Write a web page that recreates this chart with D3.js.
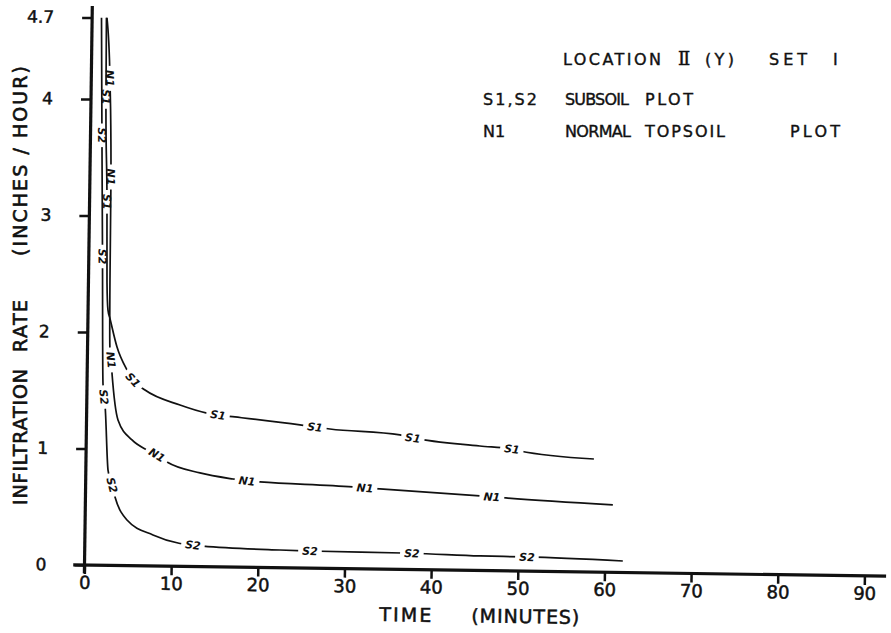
<!DOCTYPE html>
<html>
<head>
<meta charset="UTF-8">
<script src="https://cdn.jsdelivr.net/npm/d3@7"></script>
<style>
    body { margin: 0; background: white; }
    text { font-family: "DejaVu Sans", sans-serif; fill: #111; }
</style>
</head>
<body>
<div id="chart"></div>
<script>
// ---- data ----
const xTicks = [0, 10, 20, 30, 40, 50, 60, 70, 80, 90];
const yTicks = [0, 1, 2, 3, 4, 4.7];

// S1 subsoil plot
const s1Time = [1.65, 1.72, 2.01, 2.14, 2.30, 2.54, 3.40, 4.59, 5.30, 6.70, 10.76, 13.88, 15.16, 17.12, 24.63, 26.36, 28.1, 36.18, 37.68, 45.42, 49.12, 50.05, 58.6];
const s1Rate = [4.70, 4.02, 3.12, 2.43, 2.19, 2.12, 1.875, 1.679, 1.594, 1.509, 1.385, 1.319, 1.304, 1.289, 1.228, 1.212, 1.197, 1.154, 1.130, 1.069, 1.047, 1.031, 0.971];
const s1Labels = [1.72, 2.01, 5.30, 15.16, 26.36, 37.68, 49.12];

// N1 normal topsoil plot
const n1Time = [1.71, 2.15, 2.43, 2.48, 2.59, 2.73, 2.86, 3.63, 5.28, 7.02, 8.18, 9.35, 13.17, 16.99, 18.61, 20.11, 30.84, 32.23, 33.96, 45.5, 46.89, 48.51, 60.86];
const n1Rate = [4.70, 4.18, 3.334, 2.449, 1.849, 1.763, 1.651, 1.249, 1.079, 0.995, 0.953, 0.894, 0.804, 0.756, 0.741, 0.734, 0.702, 0.695, 0.688, 0.640, 0.634, 0.626, 0.579];
const n1Labels = [2.15, 2.43, 2.73, 8.18, 18.61, 32.23, 46.89];

// S2 subsoil plot
const s2Time = [1.08, 1.32, 1.58, 1.84, 1.98, 2.11, 2.56, 3.04, 3.41, 4.83, 7.85, 10.75, 12.48, 13.64, 22.52, 25.99, 36.6, 37.75, 45.6, 51.03, 62.1];
const s2Rate = [4.70, 3.69, 2.65, 1.56, 1.444, 1.376, 0.818, 0.69, 0.587, 0.391, 0.266, 0.200, 0.185, 0.177, 0.152, 0.147, 0.141, 0.140, 0.125, 0.122, 0.099];
const s2Labels = [1.32, 1.58, 1.98, 3.04, 12.48, 25.99, 37.75, 51.03];

const legendRows = [
    ["LOCATION", "II", "(Y)", "SET", "I"],
    ["S1,S2", "SUBSOIL", "PLOT"],
    ["N1", "NORMAL", "TOPSOIL", "PLOT"]
];
const yTitleWords = ["INFILTRATION", "RATE", "(INCHES / HOUR)"];
const xTitleWords = ["TIME", "(MINUTES)"];

// ---- layout ----
const w = 891, h = 633;
const ox = 84.5, oy = 565;   // where the axes cross
const tilt = 0.8;            // the scanned sheet is turned a little

const x = d3.scaleLinear().domain([0, 90]).range([0, 780]);
const y = d3.scaleLinear().domain([0, 4.7]).range([0, -547.5]);

const svg = d3.select('#chart').append('svg')
    .attr('width', w)
    .attr('height', h);
const defs = svg.append('defs');

const g = svg.append('g')
    .attr('transform', `translate(${ox}, ${oy}) rotate(${tilt})`);

// x axis
const gx = g.append('g')
    .call(d3.axisBottom(x).tickValues(xTicks).tickSize(9).tickPadding(2).tickSizeOuter(0));
gx.select('.domain').remove();
gx.selectAll('.tick line').attr('stroke', '#111').attr('stroke-width', 2.5);
gx.selectAll('text').style('font-size', '18px').attr('stroke', '#111').attr('stroke-width', 0.5);

// y axis
const gy = g.append('g')
    .call(d3.axisLeft(y).tickValues(yTicks).tickSize(10).tickPadding(28).tickSizeOuter(0)
        .tickFormat(d => d === 4.7 ? '4.7' : d3.format('d')(d)));
gy.select('.domain').remove();
gy.selectAll('.tick line').attr('stroke', '#111').attr('stroke-width', 2.5);
gy.selectAll('text').style('font-size', '17px').attr('stroke', '#111').attr('stroke-width', 0.5);

g.append('line')
    .attr('x1', x(-1.3)).attr('x2', x(92.5))
    .attr('y1', y(0)).attr('y2', y(0))
    .attr('stroke', '#111').attr('stroke-width', 3.2);
g.append('line')
    .attr('x1', x(0)).attr('x2', x(0))
    .attr('y1', y(-0.07)).attr('y2', y(4.8))
    .attr('stroke', '#111').attr('stroke-width', 3.2);

// curves, with gaps where the labels sit
const series = [
    { id: 's1', name: 'S1', t: s1Time, v: s1Rate, labels: s1Labels },
    { id: 'n1', name: 'N1', t: n1Time, v: n1Rate, labels: n1Labels },
    { id: 's2', name: 'S2', t: s2Time, v: s2Rate, labels: s2Labels }
];

const line = d3.line()
    .x(d => x(d[0]))
    .y(d => y(d[1]))
    .curve(d3.curveMonotoneX);

series.forEach(s => {
    const pts = s.t.map((t, i) => [t, s.v[i]]);

    const mask = defs.append('mask')
        .attr('id', 'gap-' + s.id)
        .attr('maskUnits', 'userSpaceOnUse')
        .attr('x', -200).attr('y', -700).attr('width', 1200).attr('height', 900);
    mask.append('rect')
        .attr('x', -200).attr('y', -700).attr('width', 1200).attr('height', 900)
        .attr('fill', 'white');

    g.append('path')
        .datum(pts)
        .attr('d', line)
        .attr('fill', 'none')
        .attr('stroke', '#111')
        .attr('stroke-width', 1.7)
        .attr('mask', `url(#gap-${s.id})`);

    s.labels.forEach(lt => {
        const i = s.t.indexOf(lt);
        const a = pts[Math.max(i - 1, 0)];
        const b = pts[Math.min(i + 1, pts.length - 1)];
        const ang = Math.atan2(y(b[1]) - y(a[1]), x(b[0]) - x(a[0])) * 180 / Math.PI;
        const tr = `translate(${x(pts[i][0])}, ${y(pts[i][1])}) rotate(${ang})`;

        const txt = g.append('text')
            .attr('transform', tr)
            .attr('text-anchor', 'middle')
            .attr('dy', '0.36em')
            .style('font-size', '11px')
            .style('font-weight', 'bold')
            .style('font-style', 'italic')
            .text(s.name);
        const len = txt.node().getComputedTextLength();

        mask.append('rect')
            .attr('transform', tr)
            .attr('x', -len / 2 - 4).attr('y', -6)
            .attr('width', len + 8).attr('height', 12)
            .attr('fill', 'black');
    });
});

// y axis title, bottom to top
const yTitleStart = [505, 352, 256];
const yTitleLen = [136, 52, 190];
yTitleWords.forEach((word, i) => {
    svg.append('text')
        .attr('transform', `translate(27, ${yTitleStart[i]}) rotate(-90)`)
        .attr('textLength', yTitleLen[i])
        .attr('lengthAdjust', 'spacing')
        .style('font-size', '19px')
        .attr('stroke', '#111').attr('stroke-width', 0.6)
        .text(word);
});

// x axis title
const xt = svg.append('g')
    .attr('transform', `rotate(${tilt}, ${ox}, ${oy})`);
const xTitleX = [380, 472];
const xTitleLen = [52, 108];
xTitleWords.forEach((word, i) => {
    xt.append('text')
        .attr('x', xTitleX[i]).attr('y', 617)
        .attr('textLength', xTitleLen[i])
        .attr('lengthAdjust', 'spacing')
        .style('font-size', '19px')
        .attr('stroke', '#111').attr('stroke-width', 0.5)
        .text(word);
});

// legend: start and width of every word (0 = natural width)
const legendX = [
    [563, 678, 705, 769, 833],
    [483, 565, 645],
    [483, 565, 645, 790]
];
const legendLen = [
    [98, 0, 29, 38, 0],
    [54, 64, 48],
    [0, 66, 80, 50]
];
const legendY = [65, 105, 137];
legendRows.forEach((row, r) => {
    row.forEach((word, c) => {
        const roman = r === 0 && c === 1;
        const t = svg.append('text')
            .attr('x', legendX[r][c])
            .attr('y', legendY[r])
            .style('font-family', roman ? '"DejaVu Serif", serif' : null)
            .style('font-size', roman ? '18px' : '16px')
            .style('letter-spacing', roman ? '-2px' : null)
            .attr('stroke', '#111').attr('stroke-width', 0.4)
            .text(roman ? 'Ⅱ' : word);
        if (legendLen[r][c] > 0) {
            t.attr('textLength', legendLen[r][c]).attr('lengthAdjust', 'spacing');
        }
    });
});
</script>
</body>
</html>
